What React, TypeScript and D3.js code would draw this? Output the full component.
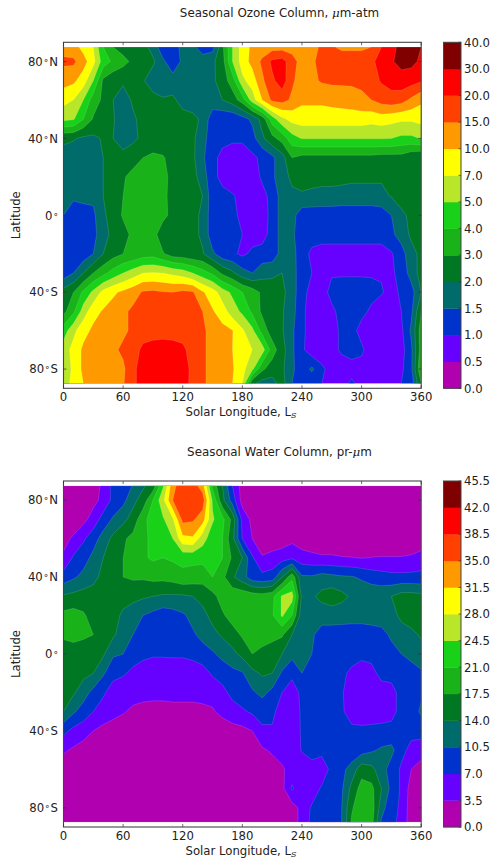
import React from "react";
import * as d3 from "d3";

const longitudes = d3.range(0, 361, 10);
const latitudes = [87.5, 80, 70, 60, 50, 40, 30, 20, 10, 0, -10, -20, -30, -40, -50, -60, -70, -80, -87.5];
const xTicks = [0, 60, 120, 180, 240, 300, 360];
const yTicks = [
  { lat: 80, value: "80", hemi: "N" },
  { lat: 40, value: "40", hemi: "N" },
  { lat: 0, value: "0", hemi: "" },
  { lat: -40, value: "40", hemi: "S" },
  { lat: -80, value: "80", hemi: "S" },
];
const bandColors = ["#b000b0", "#6600ff", "#0033cc", "#006b6b", "#007722", "#19b319", "#19d119", "#b8e628", "#ffff00", "#ff9900", "#ff4000", "#ff0000", "#800000"];
const ozoneLevels = [0, 0.5, 1, 1.5, 2, 3, 4, 5, 7, 10, 15, 20, 30, 40];
const waterLevels = [0, 3.5, 7, 10.5, 14, 17.5, 21, 24.5, 28, 31.5, 35, 38.5, 42, 45.5];

const ozoneColumn = [
  [13, 12, 9, 7, 4, 3, 2.6, 2.5, 2.4, 1.8, 1.2, 1.2, 1.7, 1.6, 1.3, 1.3, 2.8, 5, 8.5, 11, 12, 13, 13, 13, 13, 14, 15.5, 15.5, 14, 14, 14, 15, 20, 28, 32, 33, 30],
  [16, 16, 12, 8, 4.5, 3.8, 3.3, 2.8, 2.5, 2.2, 1.6, 1.2, 1.6, 1.7, 1.7, 1.9, 2.6, 5, 8.5, 11.5, 16, 22, 24, 17, 13, 14, 17, 18, 18, 18, 18, 19, 24, 29, 33, 33, 28],
  [12, 11, 8.5, 5, 2.8, 2.3, 2.2, 2.3, 2.1, 1.7, 1.7, 1.7, 1.7, 1.7, 1.7, 1.9, 2.5, 3.5, 6.5, 8.5, 14, 19, 25, 16, 12, 14, 15.5, 16, 16, 16, 16.5, 18, 21, 24, 26, 24, 21],
  [8, 7, 5, 3.5, 2.8, 2, 1.7, 2.2, 2.4, 2.4, 2.1, 2.2, 1.8, 1.7, 1.7, 1.8, 2, 2.5, 3.5, 6, 10, 16, 17, 14, 11, 11, 11, 11.5, 12, 12.5, 13.5, 15, 17, 18, 17, 14, 11],
  [5.5, 5.2, 4, 2.9, 2.4, 2.1, 1.7, 1.9, 2.4, 2.4, 2.4, 2.4, 2.4, 2.3, 1.9, 1.2, 1.1, 1.1, 1.3, 1.6, 2.4, 4.5, 6.5, 8, 8.5, 8.5, 8.5, 8.5, 8.5, 8.5, 8.5, 8, 8.5, 8, 7.5, 7.5, 8],
  [2.2, 2.1, 1.9, 1.9, 2.1, 2, 1.7, 1.9, 2.2, 2.4, 2.3, 2.3, 2.3, 2.2, 1.7, 1.2, 1.1, 1.1, 1.1, 1.3, 1.9, 2.7, 3.4, 4.6, 5.1, 5.1, 5.1, 5.1, 5.1, 5.1, 5.1, 5.1, 5.1, 5, 4.8, 4.8, 5.1],
  [1.8, 1.7, 1.65, 1.6, 2, 2.3, 2.4, 2.6, 3, 3.2, 3.1, 2.6, 2.3, 2.2, 1.6, 1.1, 0.9, 0.7, 0.7, 0.9, 1.1, 1.4, 1.8, 3, 2.7, 2.7, 2.7, 2.7, 2.7, 2.7, 2.7, 2.7, 2.6, 2.6, 2.6, 2.2, 2],
  [1.75, 1.7, 1.7, 1.6, 2, 2.4, 2.9, 3.3, 3.4, 3.4, 3.3, 2.7, 2.2, 2.3, 1.8, 1.1, 0.9, 0.7, 0.7, 0.7, 1.1, 1.4, 1.8, 2.2, 2.3, 2.3, 2.3, 2.3, 2.3, 2.2, 2.2, 2.2, 2.1, 2.2, 2.4, 2.4, 2.2],
  [1.6, 1.6, 1.7, 1.6, 2, 2.6, 3, 3.4, 3.4, 3.4, 3.3, 2.6, 2.4, 2.8, 2, 1.2, 1.1, 1.05, 0.85, 0.7, 0.8, 1.2, 1.7, 1.9, 1.95, 1.9, 1.85, 1.85, 1.8, 1.8, 1.8, 1.8, 1.9, 2.05, 2.4, 2.6, 2.5],
  [1.5, 1.2, 1.2, 1.4, 1.9, 2.5, 3.1, 3.4, 3.4, 3.4, 3.3, 2.7, 2.3, 2.3, 1.9, 1.2, 1.1, 1.1, 0.9, 0.8, 0.7, 1.2, 1.7, 1.7, 1.2, 1.2, 1.2, 1.2, 1.2, 1.2, 1.2, 1.2, 1.2, 1.5, 1.9, 2.2, 2],
  [1.2, 1.2, 1.2, 1.35, 1.8, 2.3, 2.7, 3.2, 3.4, 3.4, 2.4, 2, 2.2, 2.3, 1.9, 1.2, 1.1, 1.1, 1, 0.8, 0.8, 1.2, 1.7, 1.6, 1.2, 1.2, 1.2, 1.2, 1.2, 1.2, 1.2, 1.2, 1.2, 1.4, 1.7, 2.2, 2.5],
  [1.15, 1.05, 1.2, 1.5, 2, 2.6, 3, 3.2, 3.5, 3.6, 3.1, 2.5, 2.4, 2.2, 2.1, 1.6, 1.2, 1.1, 0.9, 1.1, 1.2, 1.2, 1.7, 1.7, 1.2, 0.9, 0.8, 0.8, 0.8, 0.8, 0.8, 0.8, 0.8, 0.95, 1.3, 1.8, 2.3],
  [1.2, 1.5, 2, 3, 3.7, 4.4, 5, 6, 7, 7.2, 7, 6.5, 6, 5, 4.4, 3.8, 2.8, 2.2, 1.7, 1.5, 1.8, 1.9, 2, 1.8, 1.1, 1, 0.8, 0.95, 0.95, 0.95, 0.95, 0.95, 0.95, 0.9, 1.2, 1.7, 2.4],
  [2.4, 3, 4.2, 5.5, 8, 9.5, 11, 13, 15.5, 16, 15.2, 15, 16, 15.5, 10.5, 8.5, 6, 4.8, 4, 3.5, 2.8, 2.5, 2.2, 1.8, 1.1, 0.9, 0.8, 1.15, 1.2, 1.2, 1.2, 1.15, 1.05, 0.8, 1.1, 1.3, 2],
  [2.7, 3.8, 6, 9, 10.5, 12, 14, 16, 18, 19, 19, 18, 18, 17, 15, 10.5, 8.5, 6, 4.8, 3.8, 2.8, 2.4, 2.1, 1.7, 1.1, 0.8, 0.7, 0.9, 1.15, 1.2, 1.15, 0.9, 0.7, 0.7, 1, 1.4, 3],
  [4.5, 6.5, 9, 11, 12, 13, 14, 16, 18, 18, 18, 18, 18, 17, 16, 13, 11.5, 10.2, 7.5, 5.5, 3.6, 2.5, 2.1, 1.6, 1.1, 0.8, 0.7, 0.8, 1.1, 1.2, 0.8, 0.7, 0.7, 0.7, 0.9, 1.6, 3.5],
  [6, 8, 11, 12, 13, 14, 16, 18, 22, 24, 25, 24, 22, 18, 16, 13, 11, 10, 8, 7, 6, 3.5, 2.4, 1.6, 1.1, 0.7, 0.7, 0.8, 1.1, 1.2, 1.1, 0.7, 0.7, 0.7, 0.8, 1.4, 3.5],
  [5, 8, 11, 13, 13, 14, 14, 19, 24, 28, 29, 30, 27, 18, 16, 13, 12, 10.5, 8, 5.5, 3.2, 2.5, 2.2, 1.6, 1.2, 1.6, 1.1, 0.8, 0.7, 0.8, 0.8, 0.7, 0.7, 0.7, 0.9, 1.4, 4],
  [6, 8, 10, 12, 13, 14, 14.5, 19, 24, 26, 27, 27, 26, 18, 16, 13, 11.5, 10, 7, 2.2, 1.8, 1.8, 2.4, 1.5, 1.2, 1.1, 1, 0.8, 0.8, 1.1, 0.8, 1, 0.8, 0.8, 1, 1.2, 3],
];

const waterColumn = [
  [1, 1, 1, 1.5, 4.5, 8, 7, 11, 13.5, 15.5, 24, 34, 37, 37, 33, 20, 14, 7, 2, 1, 1, 1, 1, 1, 1, 1, 1, 1, 1, 1, 1, 1, 1, 1, 1, 1, 1],
  [1, 1, 1, 2.5, 4.5, 8, 9.5, 13, 15.5, 21, 27, 35, 37, 36, 37, 24, 15, 9, 2, 1, 1, 1, 1, 1, 1, 1, 1, 1, 1, 1, 1, 1, 1, 1, 1, 1, 1],
  [1, 1.5, 2.5, 5, 8.5, 11, 13, 15.5, 20, 22.5, 24, 27.5, 36, 35.5, 33, 25, 22, 16.5, 6, 2.5, 1.2, 1, 1, 1, 1, 1, 1, 1, 1, 1, 1, 1, 1, 1, 1, 1, 1],
  [2.5, 4, 6.5, 9, 12, 15, 17, 18.5, 20, 22, 23, 24.5, 30.5, 31, 26, 22.5, 21, 15, 7, 3.5, 1.5, 1, 1.5, 2.5, 1.5, 1, 1, 1, 1, 1, 1, 1, 1, 1, 1, 1, 1],
  [4, 7.5, 9, 11.5, 14, 15.5, 17.5, 18.5, 20.5, 21.5, 21, 21.5, 22, 22, 22, 22, 21, 17, 14, 7.5, 3.8, 4.8, 5.5, 6.5, 5, 4.5, 4, 4, 3.7, 3.6, 3.4, 3.6, 3.7, 3.7, 3.7, 4, 5],
  [8.5, 10, 11.5, 13, 15, 16, 17.5, 18, 18, 18.5, 18.5, 19, 20, 19.5, 19, 21, 18.5, 14.5, 12, 8.5, 8, 8.5, 14, 20, 11, 11, 12, 11.5, 11, 10.8, 10, 9, 8.5, 8, 8, 8, 8],
  [14.5, 15, 15.5, 15.5, 15.5, 15, 15, 15, 14.5, 14, 13.5, 13.5, 13.5, 14, 15, 16.5, 19, 20, 20, 19.5, 19, 20, 25, 26, 13, 13.5, 15, 16, 15, 13.5, 13, 13, 13, 14, 15.5, 15.5, 15],
  [18.5, 19, 18, 16, 15, 15, 13.5, 12, 10.5, 9.5, 8.5, 9, 10, 11.5, 13, 15, 17, 19, 20, 20, 20.5, 20.5, 25, 21, 12, 12, 12, 12, 12, 12, 12, 12, 12, 12.5, 15, 16, 16],
  [18, 18.5, 18, 17.5, 15, 14.5, 12.5, 10.5, 8.5, 8, 8, 8, 8.5, 10, 11.5, 13, 14.5, 16, 18, 19, 20, 19, 18, 14, 12, 11, 9, 9, 8.8, 8.5, 8.5, 9, 9.5, 11, 12, 13, 14.5],
  [16, 16, 16, 15.5, 14.5, 11, 10.5, 9, 8, 7.5, 7.5, 7.5, 7.5, 8, 9, 10, 11.5, 13, 15, 17.5, 16, 15, 14, 11.5, 11.5, 10.5, 8, 8, 8, 8, 8, 8, 8.5, 9.5, 10.5, 11.5, 12.5],
  [15.5, 15.5, 15, 14, 11, 8, 7.5, 6, 5, 4.5, 4.5, 5, 5, 5, 5.5, 7.5, 8.5, 9.5, 10.2, 13, 14.5, 14, 10, 8, 10.5, 8, 8, 8, 7.5, 6.5, 5, 6, 8, 8, 8.5, 9, 10],
  [15, 14.5, 12, 9.5, 7.5, 5.5, 4.5, 4.5, 4.5, 4.5, 4.5, 4.5, 4.5, 4.5, 4.5, 4.5, 6, 8, 9, 10, 11.5, 9.5, 7, 5, 8, 8, 8, 8, 7.3, 5.5, 5, 5, 5.5, 6, 8, 9, 10],
  [14, 11, 9, 7, 5.5, 4.5, 3.7, 3, 2.5, 2.2, 2.2, 2.5, 2.5, 2.5, 2.8, 3.2, 4.2, 5.5, 6.5, 7.5, 8, 8, 5, 5, 7.5, 8, 8, 8, 7.5, 5.5, 5, 5, 5.5, 6, 8, 9, 11],
  [8, 6, 5, 3.5, 2.5, 2, 2, 2, 2, 2, 2, 2, 2, 2, 2, 2, 2, 2.2, 2.5, 3.5, 6.5, 6.5, 5, 4.5, 7.5, 8, 8, 8, 8, 7.8, 7.8, 8, 8, 8, 8, 8, 8.5],
  [4, 3, 2, 1.5, 1.5, 1.5, 1.5, 1.5, 1.5, 1.5, 1.5, 1.5, 1.5, 1.5, 1.5, 1.5, 1.5, 1.5, 1.5, 1.5, 3, 4, 5, 5.5, 7.2, 8, 8, 8, 8, 8, 9, 10, 11, 11.5, 8, 6, 5],
  [1.5, 1.5, 1.5, 1.5, 1.5, 1.5, 1.5, 1.5, 1.5, 1.5, 1.5, 1.5, 1.5, 1.5, 1.5, 1.5, 1.5, 1.5, 1.5, 1.5, 1.5, 1.8, 3, 5, 5.5, 6, 5, 8, 9.5, 12, 16, 15, 12, 9, 6.5, 3.5, 2],
  [1, 1, 1, 1, 1, 1, 1, 1, 1, 1, 1, 1, 1, 1, 1, 1, 1, 1, 1, 1, 1, 1.2, 2.5, 7.5, 4.5, 5, 7.5, 8, 10, 15, 19, 18.5, 14, 9.5, 6.5, 2, 1.5],
  [1, 1, 1, 1, 1, 1, 1, 1, 1, 1, 1, 1, 1, 1, 1, 1, 1, 1, 1, 1, 1, 1, 1.5, 2, 4.5, 7.5, 8, 8, 10.5, 17, 20.5, 19.5, 12, 8, 6.5, 1.5, 1],
  [1, 1, 1, 1, 1, 1, 1, 1, 1, 1, 1, 1, 1, 1, 1, 1, 1, 1, 1, 1, 1, 1, 1.5, 2, 4.5, 8, 8, 8, 10.5, 18, 21, 19, 10, 8, 6, 1.5, 1],
];

const FONT = "'DejaVu Sans', sans-serif";
const INK = "#222";
const TICK_SIZE = 11.7;
const TITLE_SIZE = 11.9;

function ContourPanel({ id, top, title, titleTail, grid, levels }: any) {
  const x0 = 63.5, x1 = 421.2, bottomOffset = 346;
  const x = d3.scaleLinear().domain([0, 360]).range([x0, x1]);
  const y = d3.scaleLinear().domain([90, -90]).range([top, top + bottomOffset]);
  const toBand = d3.scaleLinear().domain(levels).range(levels.map((_: number, i: number) => i)).clamp(true);
  const nx = longitudes.length, ny = latitudes.length;
  const gx = d3.scaleLinear().domain(longitudes.map((_, i) => i + 0.5)).range(longitudes).clamp(true);
  const gy = d3.scaleLinear().domain(latitudes.map((_, i) => i + 0.5)).range(latitudes).clamp(true);
  const values = (grid as number[][]).flat().map((v) => toBand(v));
  const contours = d3.contours().size([nx, ny]).smooth(true).thresholds(bandColors.map((_, i) => i))(values);
  const pathOf = (c: any) =>
    c.coordinates
      .map((poly: number[][][]) =>
        poly
          .map((ring) => "M" + ring.map((p) => `${x(gx(p[0])).toFixed(2)},${y(gy(p[1])).toFixed(2)}`).join("L") + "Z")
          .join("")
      )
      .join("");
  const barX0 = 443.5, barX1 = 461;
  const barBands = d3.scaleLinear().domain([0, bandColors.length]).range([top + bottomOffset, top]);
  return (
    <g fontFamily={FONT} fill={INK}>
      <text x={279.5} y={top - 25.5} textAnchor="middle" fontSize={TITLE_SIZE}>
        {title}
        <tspan fontStyle="italic" fontFamily="'DejaVu Serif', serif">μ</tspan>
        {titleTail}
      </text>
      <clipPath id={id}>
        <rect x={x(longitudes[0])} width={x1 - x0} y={y(latitudes[0])} height={y(latitudes[ny - 1]) - y(latitudes[0])} />
      </clipPath>
      <g clipPath={`url(#${id})`}>
        {contours.map((c: any, i: number) => (
          <path key={i} d={pathOf(c)} fill={bandColors[i]} fillRule="evenodd" stroke="rgba(255,255,255,0.22)" strokeWidth={0.6} />
        ))}
      </g>
      <rect x={x0} y={top} width={x1 - x0} height={bottomOffset} fill="none" stroke="#444" strokeWidth={1.1} />
      {xTicks.map((t) => (
        <g key={t}>
          <line x1={x(t)} x2={x(t)} y1={top} y2={top + 3} stroke="#333" strokeWidth={0.7} />
          <line x1={x(t)} x2={x(t)} y1={top + bottomOffset} y2={top + bottomOffset - 3} stroke="#333" strokeWidth={0.7} />
          <text x={x(t)} y={top + bottomOffset + 12.5} textAnchor="middle" fontSize={TICK_SIZE}>{t}</text>
        </g>
      ))}
      {yTicks.map((t) => (
        <g key={t.lat}>
          <line x1={x0} x2={x0 + 3} y1={y(t.lat)} y2={y(t.lat)} stroke="#333" strokeWidth={0.7} />
          <line x1={x1} x2={x1 - 3} y1={y(t.lat)} y2={y(t.lat)} stroke="#333" strokeWidth={0.7} />
          <text x={58} y={y(t.lat) + 4.2} textAnchor="end" fontSize={TICK_SIZE}>
            {t.value}
            <tspan dx={1} fontSize={9}>°</tspan>
            {t.hemi ? <tspan dx={1}>{t.hemi}</tspan> : null}
          </text>
        </g>
      ))}
      <text x={241} y={top + bottomOffset + 28} textAnchor="middle" fontSize={TICK_SIZE}>
        Solar Longitude, L<tspan fontStyle="italic" fontFamily="'DejaVu Serif', serif" fontSize={8} dy={2}>S</tspan>
      </text>
      <text transform={`translate(19.5,${y(0)}) rotate(-90)`} textAnchor="middle" fontSize={TICK_SIZE}>Latitude</text>
      {bandColors.map((c, i) => (
        <rect key={c} x={barX0} width={barX1 - barX0} y={barBands(i + 1)} height={barBands(i) - barBands(i + 1) + 0.3} fill={c} />
      ))}
      <rect x={barX0} y={top} width={barX1 - barX0} height={bottomOffset} fill="none" stroke="#444" strokeWidth={1} />
      {levels.map((lv: number, i: number) => (
        <g key={lv}>
          <line x1={barX1 - 2.5} x2={barX1} y1={barBands(i)} y2={barBands(i)} stroke="#333" strokeWidth={0.7} />
          <text x={464} y={barBands(i) + 4.2} fontSize={TICK_SIZE}>{lv.toFixed(1)}</text>
        </g>
      ))}
    </g>
  );
}

export default function App() {
  return (
    <svg width={490} height={859} style={{ position: "absolute", left: 0, top: 0, display: "block" }}>
      <rect width={490} height={859} fill="#fff" />
      <ContourPanel id="ozone" top={42.3} title="Seasonal Ozone Column, " titleTail="m-atm" grid={ozoneColumn} levels={ozoneLevels} />
      <ContourPanel id="water" top={481} title="Seasonal Water Column, pr-" titleTail="m" grid={waterColumn} levels={waterLevels} />
    </svg>
  );
}
